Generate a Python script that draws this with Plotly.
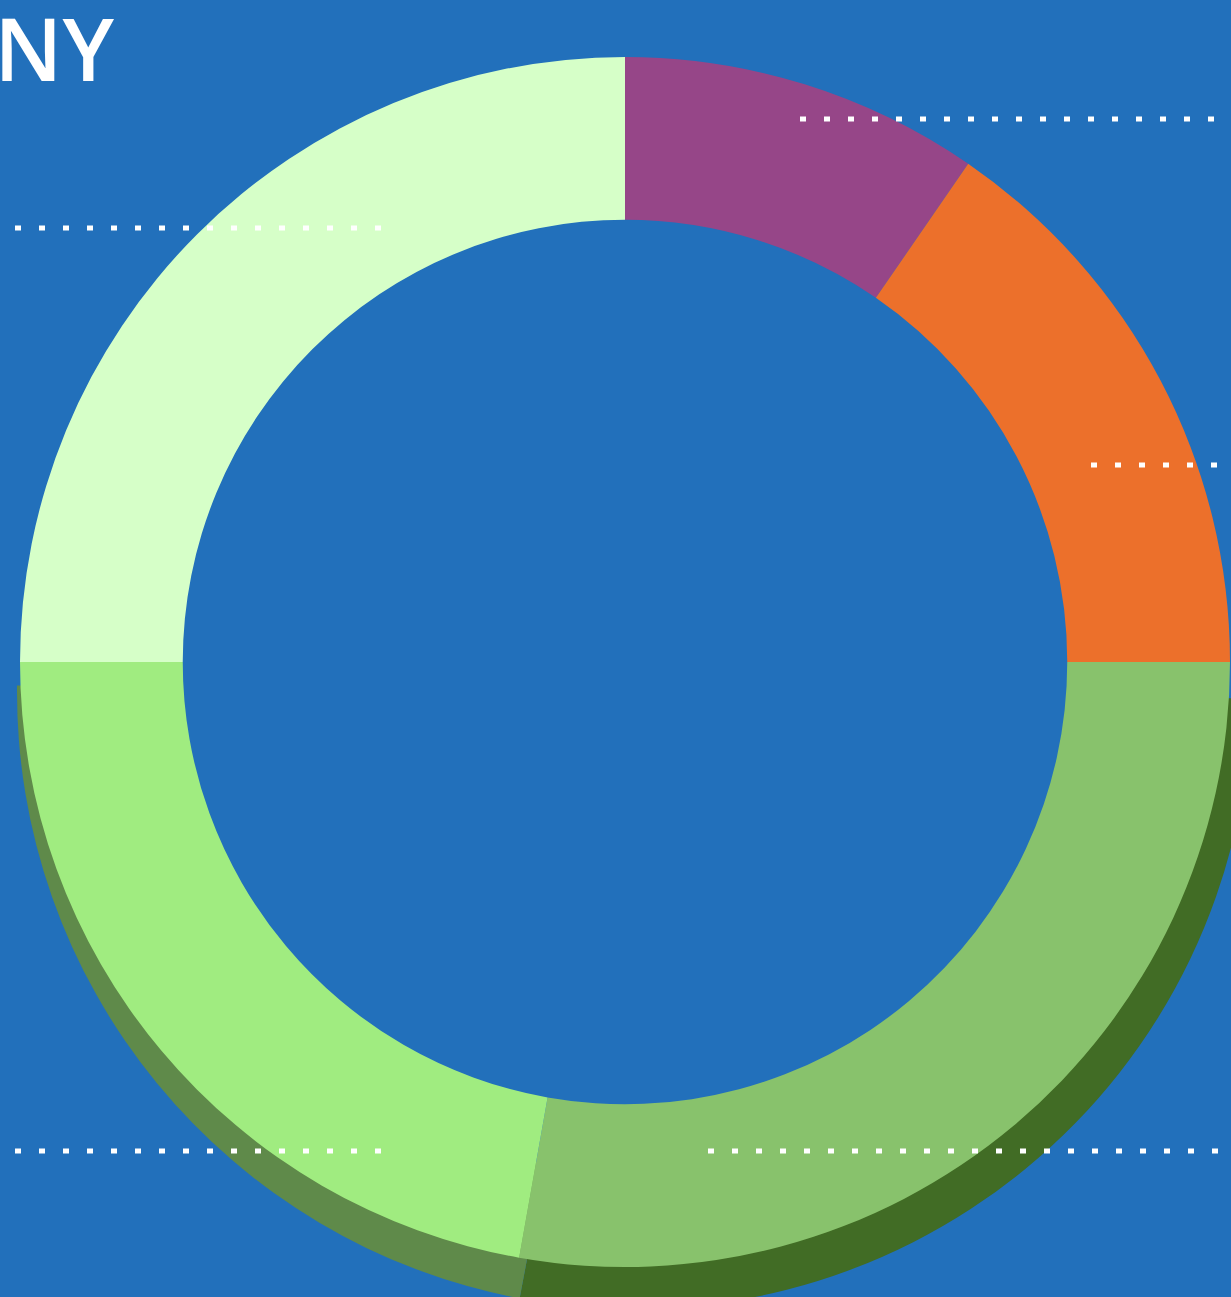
import plotly.graph_objects as go

# ---- data ----
categories = ["Segment A", "Segment B", "Segment C", "Segment D", "Segment E"]
shares = [9.6, 15.4, 27.8, 22.2, 25.0]
slice_colors = ["#964688", "#EC702B", "#88C26C", "#A0EC80", "#D6FFC8"]
depth_colors = ["rgba(0,0,0,0)", "rgba(0,0,0,0)", "#416C25", "#5F8A4A", "rgba(0,0,0,0)"]
title_text = "SONY"

# ---- canvas ----
W, H = 1260, 1320
BG = "#2270BB"


def fx(px):
    return px / W


def fy(py):
    return 1 - py / H


fig = go.Figure()

# extrusion / depth ring (drawn first, under the main donut)
fig.add_trace(go.Pie(
    labels=categories, values=shares, sort=False, direction="clockwise", rotation=0.6,
    hole=0.78, marker=dict(colors=depth_colors, line=dict(width=0)),
    textinfo="none", hoverinfo="skip", showlegend=False,
    domain=dict(x=[fx(17), fx(1251)], y=[fy(1309), fy(75)]),
))

# main donut
fig.add_trace(go.Pie(
    labels=categories, values=shares, sort=False, direction="clockwise", rotation=0,
    hole=0.731, marker=dict(colors=slice_colors, line=dict(width=0)),
    textinfo="none", showlegend=False,
    domain=dict(x=[fx(20), fx(1230)], y=[fy(1267), fy(57)]),
))

# dotted leader lines
leaders = [(800, 1218, 119), (15, 383, 228), (1091, 1218, 465), (15, 383, 1151), (708, 1218, 1151)]
shapes = []
for x0, x1, y in leaders:
    shapes.append(dict(type="line", xref="paper", yref="paper",
                       x0=fx(x0), x1=fx(x1), y0=fy(y), y1=fy(y),
                       line=dict(color="white", width=5, dash="6px,18px")))

fig.update_layout(
    width=W, height=H,
    margin=dict(l=0, r=0, t=0, b=0),
    paper_bgcolor=BG, plot_bgcolor=BG,
    shapes=shapes,
    annotations=[dict(text=title_text, xref="paper", yref="paper",
                      x=fx(116), y=fy(47), xanchor="right", yanchor="middle",
                      showarrow=False,
                      font=dict(family="Open Sans", size=87, weight=600, color="white"))],
)

fig.write_html("out.html",
               post_script="document.documentElement.style.overflow='hidden';document.body.style.overflow='hidden';")
